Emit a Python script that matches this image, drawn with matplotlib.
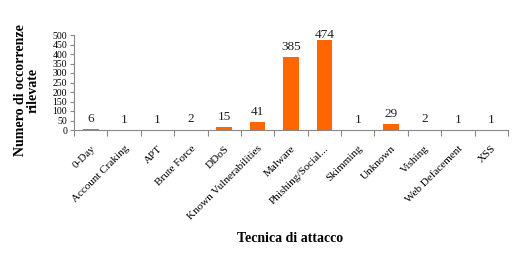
import matplotlib
matplotlib.use('Agg')
import matplotlib.pyplot as plt

# Dati
tecniche = ['0-Day', 'Account Craking', 'APT', 'Brute Force', 'DDoS',
            'Known Vulnerabilities', 'Malware', 'Phishing/Social...',
            'Skimming', 'Unknown', 'Vishing', 'Web Defacement', 'XSS']
occorrenze = [6, 1, 1, 2, 15, 41, 385, 474, 1, 29, 2, 1, 1]
y_ticks = list(range(0, 501, 50))

plt.rcParams['font.family'] = ['Liberation Serif', 'DejaVu Serif']

fig = plt.figure(figsize=(5.16, 2.62), dpi=100)
ax = fig.add_axes([74 / 516, 1 - 130 / 262, 434 / 516, 95 / 262])

x = list(range(len(tecniche)))
ax.bar(x, occorrenze, width=0.47, color='#FF6600', zorder=2)
for xi, v in zip(x, occorrenze):
    # le etichette non escono dall'area del grafico
    ax.text(xi, min(v + 22, 470), str(v), ha='center', va='bottom',
            fontsize=9.5, color='#222222', clip_on=False)

ax.set_xlim(-0.5, len(tecniche) - 0.5)
ax.set_ylim(0, 500)
ax.set_yticks(y_ticks)
ax.tick_params(axis='y', labelsize=7, length=3, color='#888888', pad=2)
ax.set_xticks([i - 0.5 for i in range(len(tecniche) + 1)], minor=False)
ax.set_xticklabels([])
ax.set_xticks(x, minor=True)
ax.set_xticklabels(tecniche, minor=True, rotation=45, ha='right',
                   rotation_mode='anchor', fontsize=8)
ax.tick_params(axis='x', which='major', length=4, color='#888888')
ax.tick_params(axis='x', which='minor', length=0, pad=10)

for s in ['top', 'right']:
    ax.spines[s].set_visible(False)
for s in ['left', 'bottom']:
    ax.spines[s].set_color('#888888')
    ax.spines[s].set_linewidth(0.8)

fig.text(27 / 516, 1 - 90 / 262, 'Numero di occorrenze\nrilevate',
         rotation=90, ha='center', va='center', fontsize=10,
         fontweight='bold', linespacing=0.95)
fig.text(290 / 516, 1 - 238 / 262, 'Tecnica di attacco', ha='center',
         va='center', fontsize=10, fontweight='bold')

fig.savefig('out.png', dpi=100)
